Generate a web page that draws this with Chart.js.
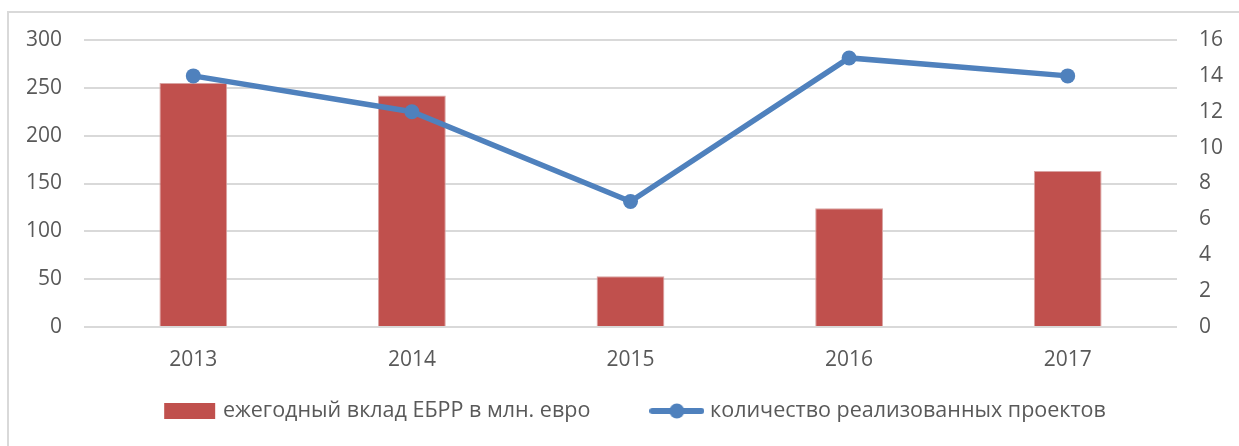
<!DOCTYPE html>
<html><head><meta charset="utf-8">
<script src="https://cdn.jsdelivr.net/npm/chart.js@4/dist/chart.umd.min.js"></script>
<style>html,body{margin:0;padding:0;background:#fff;overflow:hidden}#wrap{position:relative;width:1239px;height:446px}</style>
</head><body><div id="wrap"><canvas id="c" width="1239" height="446"></canvas></div>
<script>
const categories = ['2013', '2014', '2015', '2016', '2017'];
const contribution = [255, 242, 53, 124, 163];
const projects = [14, 12, 7, 15, 14];
const seriesNames = ['ежегодный вклад ЕБРР в млн. евро', 'количество реализованных проектов'];
const leftAxis = {min: 0, max: 300, step: 50};
const rightAxis = {min: 0, max: 16, step: 2};

const BAR = '#C0504D', LINE = '#4F81BD', GRID = '#d9d9d9', TXT = '#595959';
const FONT = "'Open Sans', 'Noto Sans', sans-serif";
const TICK_SIZE = 21, LEG_SIZE = 21.5, LEG_PAD = 64, LEG_CENTER_Y = 411;

function makeIcon(kind) {
  const c = document.createElement('canvas');
  c.width = 55; c.height = 16;
  const g = c.getContext('2d');
  if (kind === 'bar') {
    g.fillStyle = BAR; g.fillRect(2, 0, 51, 16);
  } else {
    g.strokeStyle = LINE; g.lineWidth = 6; g.lineCap = 'round';
    g.beginPath(); g.moveTo(3, 8); g.lineTo(52, 8); g.stroke();
    g.fillStyle = LINE; g.beginPath(); g.arc(27.5, 8, 7.5, 0, Math.PI * 2); g.fill();
  }
  return c;
}
const icons = [makeIcon('bar'), makeIcon('line')];

const framePlugin = {
  id: 'frame',
  beforeDraw(chart) {
    const ctx = chart.ctx;
    ctx.save();
    ctx.strokeStyle = GRID; ctx.lineWidth = 2;
    ctx.beginPath(); ctx.moveTo(8, 446); ctx.lineTo(8, 12); ctx.lineTo(1239, 12); ctx.stroke();
    ctx.restore();
  }
};

const legendPlace = {
  id: 'legendPlace',
  afterLayout(chart) {
    const lg = chart.legend;
    if (!lg) return;
    lg.top = LEG_CENTER_Y - LEG_SIZE / 2 - LEG_PAD;
    lg.bottom = chart.height;
    lg.height = lg.bottom - lg.top;
    lg.left = 34;
    lg.width = lg.right - lg.left;
  }
};

new Chart(document.getElementById('c'), {
  data: {
    labels: categories,
    datasets: [
      {type: 'line', label: seriesNames[1], data: projects, yAxisID: 'y1', borderColor: LINE, backgroundColor: LINE,
       borderWidth: 5.5, pointRadius: 7.5, pointHoverRadius: 7.5, pointBackgroundColor: LINE, pointBorderWidth: 0, tension: 0, order: 0},
      {type: 'bar', label: seriesNames[0], data: contribution, yAxisID: 'y', backgroundColor: BAR, borderColor: '#d9a3a2', borderWidth: 1,
       barPercentage: 0.31, categoryPercentage: 1, order: 1}
    ]
  },
  options: {
    responsive: false, animation: false,
    layout: {padding: {top: 40, left: 0, right: 0, bottom: 0}},
    plugins: {
      tooltip: {enabled: false},
      legend: {
        position: 'bottom', maxHeight: 73,
        labels: {
          usePointStyle: true, pointStyleWidth: 45, padding: LEG_PAD,
          color: TXT, font: {family: FONT, size: LEG_SIZE},
          generateLabels(chart) {
            return [0, 1].map(i => ({
              text: seriesNames[i], pointStyle: icons[i], fillStyle: 'transparent', strokeStyle: 'transparent',
              lineWidth: 0, hidden: false, datasetIndex: i === 0 ? 1 : 0, fontColor: TXT
            }));
          }
        }
      }
    },
    scales: {
      x: {
        grid: {display: false, drawTicks: false}, border: {display: false},
        ticks: {color: TXT, font: {family: FONT, size: TICK_SIZE}, padding: 20},
        afterFit(s) { s.height = 46; }
      },
      y: {
        position: 'left', min: leftAxis.min, max: leftAxis.max,
        grid: {color: GRID, lineWidth: 2, drawTicks: false}, border: {display: false},
        ticks: {stepSize: leftAxis.step, color: TXT, font: {family: FONT, size: TICK_SIZE}, padding: 22},
        afterFit(s) { s.width = 84; }
      },
      y1: {
        position: 'right', min: rightAxis.min, max: rightAxis.max,
        grid: {display: false, drawTicks: false}, border: {display: false},
        ticks: {stepSize: rightAxis.step, color: TXT, font: {family: FONT, size: TICK_SIZE}, padding: 22},
        afterFit(s) { s.width = 62; }
      }
    }
  },
  plugins: [framePlugin, legendPlace]
});
</script></body></html>
